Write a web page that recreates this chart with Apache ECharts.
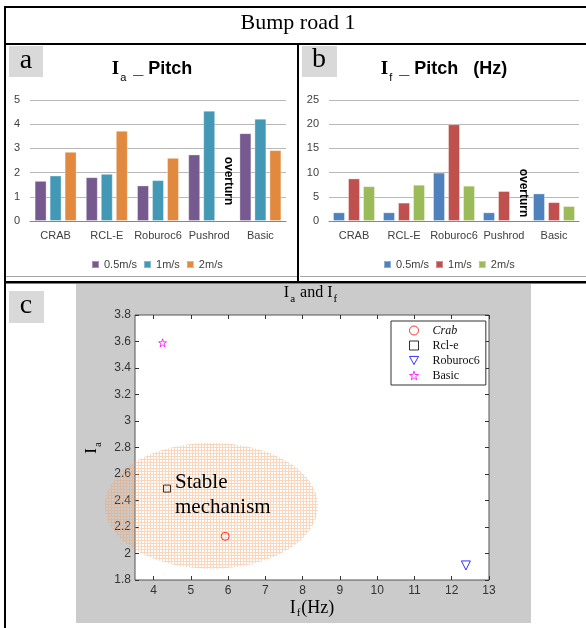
<!DOCTYPE html>
<html>
<head>
<meta charset="utf-8">
<script src="https://cdn.jsdelivr.net/npm/echarts@6/dist/echarts.min.js"></script>
<style>
html, body { margin: 0; padding: 0; background: #fff; }
#main { width: 586px; height: 628px; }
</style>
</head>
<body>
<div id="main"></div>
<script>
// Bump road 1, pitch indices
const categories = ['CRAB', 'RCL-E', 'Roburoc6', 'Pushrod', 'Basic'];
const speeds = ['0.5m/s', '1m/s', '2m/s'];

// (a) Ia _ Pitch
const iaSlow = [1.66, 1.81, 1.47, 2.75, 3.63];
const iaMid = [1.88, 1.95, 1.69, 4.56, 4.23];
const iaFast = [2.86, 3.73, 2.61, '-', 2.93]; // Pushrod overturned

// (b) If _ Pitch (Hz)
const ifSlow = [1.8, 1.8, 10.0, 1.8, 5.7];
const ifMid = [8.8, 3.8, 20.0, 6.2, 3.9];
const ifFast = [7.2, 7.5, 7.3, '-', 3.1];

// (c) Ia vs If
const scatterNames = ['Crab', 'Rcl-e', 'Roburoc6', 'Basic'];
const scatterIf = [5.92, 4.36, 12.38, 4.24];
const scatterIa = [2.13, 2.49, 1.91, 3.59];
const xTicks = [4, 5, 6, 7, 8, 9, 10, 11, 12, 13];

// stable zone: centre If, centre Ia, half width, half height
const stableZone = [5.55, 2.36, 2.86, 0.475];

const colorsA = ['#75598F', '#4399B5', '#E0893F'];
const colorsB = ['#4F81BD', '#C0504D', '#9BBB59'];
const starPath = 'path://M50,2 L61,36 L97,36 L68,57 L79,92 L50,71 L21,92 L32,57 L3,36 L39,36 Z';
const triDown = 'path://M0,0 L10,0 L5,9 Z';
const scatterStyle = [
  { symbol: 'circle', size: 8, color: '#ff0000' },
  { symbol: 'rect', size: 7, color: '#000000' },
  { symbol: triDown, size: 9, color: '#0000ff' },
  { symbol: starPath, size: 8, color: '#ff00ff' },
];

const SERIF = 'Liberation Serif';
const SANS = 'Liberation Sans';

function hatch() {
  const c = document.createElement('canvas');
  c.width = 3;
  c.height = 3;
  const g = c.getContext('2d');
  g.fillStyle = 'rgba(242,160,95,0.42)';
  g.fillRect(0, 0, 3, 1);
  g.fillRect(0, 1, 1, 2);
  return c;
}

const barTitleRich = {
  i: { fontFamily: SERIF, fontWeight: 'bold', fontSize: 19, lineHeight: 22, verticalAlign: 'top', color: '#000' },
  s: { fontFamily: SANS, fontWeight: 'normal', fontSize: 11, lineHeight: 11, padding: [12, 2, 0, 1], verticalAlign: 'top', color: '#000' },
  t: { fontFamily: SANS, fontWeight: 'bold', fontSize: 18, lineHeight: 22, verticalAlign: 'top', color: '#000' },
};
const serifRich = (size, drop) => ({
  m: { fontFamily: SERIF, fontWeight: 'normal', fontSize: size, lineHeight: size, verticalAlign: 'top', color: '#000' },
  s: { fontFamily: SERIF, fontWeight: 'normal', fontSize: 11, lineHeight: 11, padding: [drop, 1, 0, 1], verticalAlign: 'top', color: '#000' },
});

function barCatAxis(gridIndex) {
  return {
    type: 'category', gridIndex, data: categories,
    axisLine: { lineStyle: { color: '#868686' } },
    axisTick: { show: false },
    axisLabel: { interval: 0, hideOverlap: false, fontFamily: SANS, fontSize: 11, color: '#404040', margin: 9 },
  };
}
function barValAxis(gridIndex, max, interval) {
  return {
    type: 'value', gridIndex, min: 0, max, interval,
    axisLine: { show: false }, axisTick: { show: false },
    splitLine: { lineStyle: { color: '#b8b8b8' } },
    axisLabel: { fontFamily: SANS, fontSize: 11, color: '#404040', margin: 10 },
  };
}
function barSeries(prefix, names, data, colors, axis) {
  return data.map((d, i) => ({
    name: prefix + names[i], type: 'bar', xAxisIndex: axis, yAxisIndex: axis,
    data: d, barWidth: 12, barGap: '25%',
    itemStyle: { color: colors[i], borderColor: 'rgba(255,255,255,0.35)', borderWidth: 1 },
  }));
}
function barLegend(prefix, left) {
  return {
    data: speeds.map((s) => prefix + s), formatter: (n) => n.slice(prefix.length),
    left, top: 254, itemWidth: 7, itemHeight: 7, itemGap: 6, icon: 'rect', selectedMode: false,
    textStyle: { fontFamily: SANS, fontSize: 11, color: '#404040' },
  };
}

const myChart = echarts.init(document.getElementById('main'));
const ticksIn = { show: true, inside: true, length: 4, customValues: xTicks, lineStyle: { color: '#333' } };
const yTicksIn = { show: true, inside: true, length: 4, lineStyle: { color: '#333' } };
const hollow = (col) => ({ color: 'rgba(0,0,0,0)', borderColor: col, borderWidth: 1 });

myChart.setOption({
  animation: false,
  title: [
    { text: 'Bump road 1', left: 298, top: 12, textAlign: 'center', padding: 0,
      textStyle: { fontFamily: SERIF, fontWeight: 'normal', fontSize: 22, color: '#000' } },
    { text: '{i|I}{s|a}{t| _ Pitch}', left: 152, top: 60, textAlign: 'center', padding: 0,
      textStyle: { rich: barTitleRich } },
    { text: '{i|I}{s|f}{t| _ Pitch   (Hz)}', left: 444, top: 60, textAlign: 'center', padding: 0,
      textStyle: { rich: barTitleRich } },
    { text: '{m|I}{s|a}{m| and I}{s|f}', left: 311, top: 285, textAlign: 'center', padding: 0,
      textStyle: { fontWeight: 'normal', rich: serifRich(16, 9) } },
  ],
  legend: [
    barLegend('a ', 86),
    barLegend('b ', 378),
    {
      data: scatterNames.map((n, i) => ({ name: n, icon: scatterStyle[i].symbol, itemStyle: hollow(scatterStyle[i].color) })),
      orient: 'vertical', left: 391, top: 321, selectedMode: false,
      backgroundColor: '#fff', borderColor: '#333', borderWidth: 1,
      padding: [3, 6, 3, 18], itemGap: 2, itemWidth: 9, itemHeight: 9,
      formatter: (n) => (n === 'Crab' ? '{it|Crab}' : '{p|' + n + '}'),
      textStyle: { fontFamily: SERIF, fontSize: 12, lineHeight: 13, color: '#111',
        rich: {
          it: { fontFamily: SERIF, fontStyle: 'italic', fontSize: 12, color: '#111', padding: [0, 0, 0, 9] },
          p: { fontFamily: SERIF, fontSize: 12, color: '#111', padding: [0, 0, 0, 9] },
        } },
    },
  ],
  grid: [
    { left: 30, top: 100, width: 256, height: 121, outerBoundsMode: 'none' },
    { left: 329, top: 100, width: 250, height: 121, outerBoundsMode: 'none' },
    { left: 135, top: 315, width: 354, height: 265, outerBoundsMode: 'none',
      show: true, backgroundColor: '#fff', borderColor: '#555', borderWidth: 1 },
  ],
  xAxis: [
    barCatAxis(0),
    barCatAxis(1),
    {
      type: 'value', gridIndex: 2, min: 3.5, max: 13, position: 'bottom',
      axisLine: { show: false }, splitLine: { show: false }, axisTick: ticksIn,
      axisLabel: { customValues: xTicks, fontFamily: SANS, fontSize: 12, color: '#333', margin: 5 },
      name: '{m|I}{s|f}{m|(Hz)}', nameLocation: 'middle', nameGap: 19,
      nameTextStyle: { rich: serifRich(18, 9) },
    },
    {
      type: 'value', gridIndex: 2, min: 3.5, max: 13, position: 'top',
      axisLine: { show: false }, splitLine: { show: false }, axisTick: ticksIn,
      axisLabel: { show: false },
    },
  ],
  yAxis: [
    barValAxis(0, 5, 1),
    barValAxis(1, 25, 5),
    {
      type: 'value', gridIndex: 2, min: 1.8, max: 3.8, interval: 0.2, position: 'left',
      axisLine: { show: false }, splitLine: { show: false }, axisTick: yTicksIn,
      axisLabel: { fontFamily: SANS, fontSize: 12, color: '#333', margin: 4 },
      name: '{m|I}{s|a}', nameLocation: 'middle', nameRotate: 90, nameGap: 28,
      nameTextStyle: { rich: serifRich(17, 9) },
    },
    {
      type: 'value', gridIndex: 2, min: 1.8, max: 3.8, interval: 0.2, position: 'right',
      axisLine: { show: false }, splitLine: { show: false }, axisTick: yTicksIn,
      axisLabel: { show: false },
    },
  ],
  series: [
    ...barSeries('a ', speeds, [iaSlow, iaMid, iaFast], colorsA, 0),
    ...barSeries('b ', speeds, [ifSlow, ifMid, ifFast], colorsB, 1),
    {
      type: 'custom', xAxisIndex: 2, yAxisIndex: 2, clip: false, z: 3, silent: true,
      data: [stableZone],
      renderItem: (params, api) => {
        const c = api.coord([api.value(0), api.value(1)]);
        const s = api.size([api.value(2), api.value(3)]);
        const pts = [];
        for (let k = 0; k < 90; k++) {
          const t = (k / 90) * Math.PI * 2;
          pts.push([c[0] + s[0] * Math.cos(t), c[1] + s[1] * Math.sin(t)]);
        }
        return { type: 'polygon', shape: { points: pts }, style: { fill: { image: hatch(), repeat: 'repeat' } } };
      },
    },
    ...scatterNames.map((n, i) => ({
      name: n, type: 'scatter', xAxisIndex: 2, yAxisIndex: 2, z: 5,
      symbol: scatterStyle[i].symbol, symbolSize: scatterStyle[i].size,
      itemStyle: hollow(scatterStyle[i].color),
      data: [[scatterIf[i], scatterIa[i]]],
    })),
  ],
  graphic: [
    // grey backdrop of panel c
    { type: 'rect', z: -10, shape: { x: 76, y: 284, width: 455, height: 339 }, style: { fill: '#cbcbcb' } },
    // thin chart-area edges of a and b
    { type: 'rect', z: 50, shape: { x: 6, y: 276, width: 291, height: 1 }, style: { fill: '#a6a6a6' } },
    { type: 'rect', z: 50, shape: { x: 300, y: 276, width: 286, height: 1 }, style: { fill: '#a6a6a6' } },
    // table rules
    { type: 'rect', z: 60, shape: { x: 4, y: 6, width: 582, height: 2 }, style: { fill: '#000' } },
    { type: 'rect', z: 60, shape: { x: 4, y: 6, width: 2, height: 622 }, style: { fill: '#000' } },
    { type: 'rect', z: 60, shape: { x: 4, y: 43, width: 582, height: 2 }, style: { fill: '#000' } },
    { type: 'rect', z: 60, shape: { x: 297, y: 43, width: 2, height: 240 }, style: { fill: '#000' } },
    { type: 'rect', z: 60, shape: { x: 4, y: 281, width: 582, height: 2.5 }, style: { fill: '#000' } },
    // panel letters
    { type: 'rect', z: 60, shape: { x: 9, y: 46, width: 34, height: 31 }, style: { fill: '#d9d9d9' } },
    { type: 'rect', z: 60, shape: { x: 302, y: 46, width: 35, height: 31 }, style: { fill: '#d9d9d9' } },
    { type: 'rect', z: 60, shape: { x: 9, y: 291, width: 35, height: 32 }, style: { fill: '#d9d9d9' } },
    { type: 'text', z: 61, x: 26, y: 61, style: { text: 'a', font: '28px "Liberation Serif"', fill: '#000', align: 'center', verticalAlign: 'middle' } },
    { type: 'text', z: 61, x: 319, y: 60, style: { text: 'b', font: '28px "Liberation Serif"', fill: '#000', align: 'center', verticalAlign: 'middle' } },
    { type: 'text', z: 61, x: 26, y: 306, style: { text: 'c', font: '28px "Liberation Serif"', fill: '#000', align: 'center', verticalAlign: 'middle' } },
    // overturn notes
    { type: 'text', z: 61, x: 228, y: 181, rotation: -Math.PI / 2, style: { text: 'overturn', font: 'bold 12px "Liberation Sans"', fill: '#000', align: 'center', verticalAlign: 'middle' } },
    { type: 'text', z: 61, x: 523, y: 193, rotation: -Math.PI / 2, style: { text: 'overturn', font: 'bold 12px "Liberation Sans"', fill: '#000', align: 'center', verticalAlign: 'middle' } },
    // stable zone caption
    { type: 'text', z: 61, x: 175, y: 470, style: { text: 'Stable\nmechanism', font: '21px "Liberation Serif"', lineHeight: 25, fill: '#000', align: 'left', verticalAlign: 'top' } },
  ],
});
</script>
</body>
</html>
